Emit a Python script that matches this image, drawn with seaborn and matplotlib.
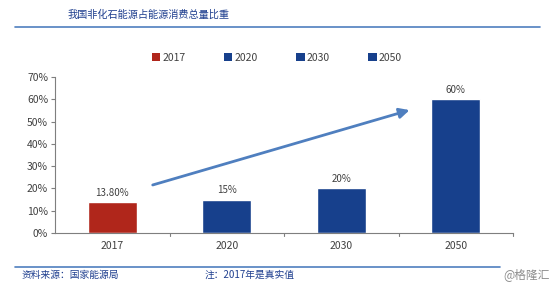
import matplotlib
matplotlib.use("Agg")
import matplotlib.pyplot as plt
import seaborn as sns
import pandas as pd
from matplotlib.patches import Patch

categories = ["2017", "2020", "2030", "2050"]
values = [0.138, 0.15, 0.20, 0.60]
labels = ["13.80%", "15%", "20%", "60%"]
yticks = [0, 0.1, 0.2, 0.3, 0.4, 0.5, 0.6, 0.7]
palette = {"2017": "#B0261B", "2020": "#17408C", "2030": "#17408C", "2050": "#17408C"}

sns.set_style("white")
plt.rcParams['font.family'] = ['Noto Sans CJK SC', 'DejaVu Sans']

df = pd.DataFrame({"year": categories, "share": values})

fig = plt.figure(figsize=(5.54, 2.9), dpi=100)
ax = fig.add_axes([55/554, 57/290, 458/554, 156/290])
sns.barplot(data=df, x="year", y="share", hue="year", palette=palette,
            dodge=False, width=0.43, ax=ax, legend=False, saturation=1)

ax.set_ylim(0, 0.7)
ax.set_yticks(yticks)
ax.set_yticklabels([f"{int(round(t*100))}%" for t in yticks])
ax.set_xlabel("")
ax.set_ylabel("")
ax.set_xlim(-0.5, 3.5)
for s in ["top", "right"]:
    ax.spines[s].set_visible(False)
for s in ["left", "bottom"]:
    ax.spines[s].set_color("#7F7F7F")
    ax.spines[s].set_linewidth(0.8)
ax.tick_params(axis="y", length=3, color="#7F7F7F", labelsize=7.5, labelcolor="#404040", pad=2, left=True)
ax.tick_params(axis="x", length=0, labelsize=7.5, labelcolor="#404040", pad=6)
for xb in [0.5, 1.5, 2.5, 3.5]:
    ax.plot([xb, xb], [0, -0.012], color="#7F7F7F", lw=0.8, clip_on=False)

for i, (v, lab) in enumerate(zip(values, labels)):
    ax.text(i, v + 0.02, lab, ha="center", va="bottom", fontsize=7, color="#404040")

ax.annotate("", xy=(2.62, 0.555), xytext=(0.33, 0.212),
            arrowprops=dict(arrowstyle="-|>,head_length=0.6,head_width=0.3",
                            color="#4F7FBF", lw=2.0))

handles = [Patch(facecolor=palette[c], edgecolor="none", label=c) for c in categories]
fig.legend(handles=handles, loc="center", bbox_to_anchor=(0.5, 1-58/290),
           ncol=4, frameon=False, fontsize=7.5, handlelength=0.8, handleheight=0.8,
           handletextpad=0.2, columnspacing=3.7, labelcolor="#404040")

fig.text(68/554, 1-15/290, "我国非化石能源占能源消费总量比重", fontsize=7.3, color="#1F3F8F",
         style="italic", va="center", ha="left")
fig.add_artist(plt.Line2D([15/554, 540/554], [1-27/290, 1-27/290], color="#4F7FBF", lw=1.2))
fig.add_artist(plt.Line2D([15/554, 500/554], [1-267/290, 1-267/290], color="#4F7FBF", lw=1.2))
fig.text(22/554, 1-275/290, "资料来源：国家能源局", fontsize=7, color="#1F3F8F",
         style="italic", va="center", ha="left")
fig.text(205/554, 1-275/290, "注：2017年是真实值", fontsize=7, color="#1F3F8F",
         style="italic", va="center", ha="left")
fig.text(550/554, 1-275/290, "@格隆汇", fontsize=8.5, color="#8C8C8C",
         va="center", ha="right")

fig.savefig("out.png", dpi=100)
